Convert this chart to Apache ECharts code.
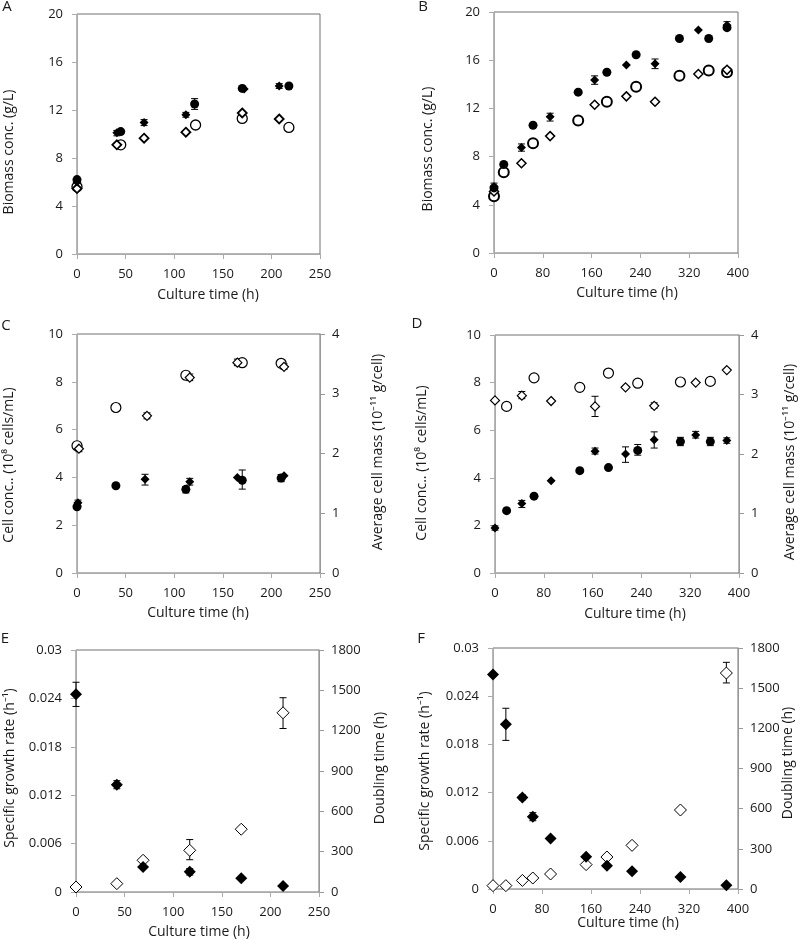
<!DOCTYPE html>
<html>
<head>
<meta charset="utf-8">
<script src="https://cdn.jsdelivr.net/npm/echarts@6/dist/echarts.min.js"></script>
<style>html,body{margin:0;padding:0;background:#fff}#c{width:800px;height:940px}</style>
</head>
<body>
<div id="c"></div>
<script>
// ---------- DATA ----------
// Panel A: biomass (g/L) vs culture time (h)
const aFilledCircle  = [[0,6.2],[45,10.2],[121,12.5],[170,13.8],[218,14.0]];
const aFilledDiamond = [[0,6.0],[41,10.1],[69,10.95],[112,11.6],[172,13.75],[208,14.0]];
const aOpenCircle    = [[0,5.6],[45,9.1],[122,10.75],[170,11.3],[218,10.55]];
const aOpenDiamond   = [[0,5.45],[41,9.1],[69,9.65],[112,10.15],[170,11.75],[208,11.25]];
const aErr           = [[121,12.05,12.95],[69,10.7,11.2],[41,9.85,10.3],[112,11.4,11.8],[208,13.8,14.2]];
// Panel B
const bFilledCircle  = [[0,5.4],[16,7.35],[64,10.6],[138,13.35],[185,15.0],[233,16.45],[304,17.8],[352,17.8],[382,18.7]];
const bFilledDiamond = [[0,5.5],[45,8.75],[92,11.3],[165,14.35],[217,15.6],[264,15.7],[335,18.5],[382,18.9]];
const bOpenCircle    = [[0,4.7],[16,6.7],[64,9.1],[138,11.0],[185,12.55],[233,13.8],[304,14.7],[352,15.15],[382,15.0]];
const bOpenDiamond   = [[0,5.1],[45,7.45],[92,9.7],[165,12.3],[217,13.0],[264,12.55],[335,14.85],[382,15.2]];
const bErr           = [[264,15.3,16.1],[45,8.45,9.05],[0,5.05,5.8],[165,14.0,14.7],[92,10.95,11.6],[382,18.6,19.2]];
// Panel C: cell conc. (left) and average cell mass (right)
const cFilledCircle  = [[0,2.77],[40,3.65],[112,3.5],[170,3.88],[210,3.97]];
const cFilledDiamond = [[1,2.94],[70,3.92],[116,3.82],[165,4.0],[213,4.07]];
const cOpenCircle    = [[0,2.13],[40,2.77],[112,3.31],[170,3.52],[210,3.51]];
const cOpenDiamond   = [[2,2.08],[72,2.63],[116,3.27],[165,3.52],[213,3.45]];
const cErrLeft       = [[70,3.68,4.13],[170,3.51,4.31],[112,3.35,3.62],[210,3.82,4.12],[116,3.68,3.96],[1,2.8,3.05]];
const cErrRight      = [[2,2.03,2.13],[116,3.22,3.33],[165,3.47,3.58],[213,3.41,3.5],[72,2.58,2.68]];
// Panel D
const dFilledCircle  = [[19,2.62],[64,3.23],[139,4.3],[186,4.43],[234,5.15],[304,5.52],[353,5.52]];
const dFilledDiamond = [[0,1.89],[44,2.92],[92,3.88],[164,5.12],[214,5.0],[261,5.6],[329,5.8],[380,5.57]];
const dOpenCircle    = [[19,2.8],[64,3.28],[139,3.12],[186,3.36],[234,3.19],[304,3.21],[353,3.22]];
const dOpenDiamond   = [[0,2.9],[44,2.98],[92,2.89],[164,2.8],[214,3.12],[261,2.81],[329,3.2],[380,3.41]];
const dErrLeft       = [[214,4.65,5.3],[234,4.95,5.4],[261,5.25,5.93],[304,5.35,5.7],[329,5.67,5.95],[353,5.35,5.7],[44,2.75,3.05],[164,5.0,5.25],[380,5.45,5.68],[0,1.8,1.98]];
const dErrRight      = [[164,2.63,2.97],[44,2.93,3.05],[261,2.77,2.86]];
// Panel E: specific growth rate (left) and doubling time (right)
const eFilledDiamond = [[0,0.0245],[42,0.0133],[69,0.0031],[117,0.0025],[170,0.0017],[213,0.00075]];
const eOpenDiamond   = [[0,37],[42,62],[69,236],[117,310],[170,467],[213,1333]];
const eErrLeft       = [[0,0.0230,0.0260],[42,0.0128,0.0138],[117,0.0021,0.0029]];
const eErrRight      = [[117,240,390],[213,1216,1445]];
// Panel F
const fFilledDiamond = [[0,0.0267],[21,0.0205],[48,0.0114],[65,0.009],[94,0.0063],[152,0.004],[186,0.0029],[227,0.0022],[306,0.0015],[381,0.00046]];
const fOpenDiamond   = [[0,25],[21,25],[48,64],[65,82],[94,112],[152,182],[186,239],[227,326],[306,590],[381,1613]];
const fErrLeft       = [[21,0.0185,0.0225],[65,0.0085,0.0095],[48,0.0111,0.0117]];
const fErrRight      = [[381,1539,1693]];

// ---------- STYLE ----------
const FONT = 'Open Sans';
const TXT = '#1a1a1a';
const AXC = '#ababab';

function xAx(grid, max, interval){
  return {type:'value', gridIndex:grid, min:0, max:max, interval:interval,
    axisLine:{show:true, lineStyle:{color:AXC}}, axisTick:{show:true, length:5, lineStyle:{color:AXC}},
    splitLine:{show:false}, axisLabel:{fontFamily:FONT, fontSize:13, color:TXT, margin:14, formatter: v => String(v)}};
}
function yAx(grid, max, interval, right, fmt){
  const o = {type:'value', gridIndex:grid, min:0, max:max, interval:interval, position: right?'right':'left',
    axisLine:{show:true, lineStyle:{color: right ? '#999' : AXC}}, axisTick:{show:true, length:5, lineStyle:{color: right ? '#999' : AXC}},
    splitLine:{show:false}, axisLabel:{fontFamily:FONT, fontSize:13, color:TXT, margin: right?12:14, formatter: fmt || (v => String(v))}};
  return o;
}
const fmt3 = v => v === 0 ? '0' : String(+v.toFixed(3));

function scatter(data, xi, yi, kind, size, bw){
  const filled = kind.indexOf('filled') === 0;
  return {type:'scatter', xAxisIndex:xi, yAxisIndex:yi, data:data, z:3,
    symbol: kind.indexOf('Diamond') > 0 ? 'diamond' : 'circle', symbolSize:size,
    itemStyle: filled ? {color:'#000', opacity:1} : {color:'#fff', borderColor:'#000', borderWidth:bw, opacity:1},
    emphasis:{disabled:true}, silent:true};
}
function errRender(params, api){
  const x = api.value(0), lo = api.value(1), hi = api.value(2);
  const p1 = api.coord([x, hi]), p2 = api.coord([x, lo]);
  const w = 3.5, st = {stroke:'#000', lineWidth:1};
  return {type:'group', children:[
    {type:'line', shape:{x1:p1[0], y1:p1[1], x2:p2[0], y2:p2[1]}, style:st},
    {type:'line', shape:{x1:p1[0]-w, y1:p1[1], x2:p1[0]+w, y2:p1[1]}, style:st},
    {type:'line', shape:{x1:p2[0]-w, y1:p2[1], x2:p2[0]+w, y2:p2[1]}, style:st}
  ]};
}
function errs(data, xi, yi){
  return {type:'custom', xAxisIndex:xi, yAxisIndex:yi, data:data, z:2, renderItem:errRender,
    encode:{x:0, y:[1,2]}, silent:true};
}
function title(text, x, y, rot, size){
  return {type:'text', x:x, y:y, rotation: rot ? Math.PI/2 : 0, silent:true,
    style:{text:text, fontFamily:FONT, fontSize:size||14, fill:TXT, textAlign:'center', textVerticalAlign:'middle'}};
}

const gridBase = {show:true, borderColor:'#707070', borderWidth:1, backgroundColor:'transparent'};
const option = {
  animation:false,
  backgroundColor:'#fff',
  grid:[
    Object.assign({left:77, top:14, width:243, height:240}, gridBase),
    Object.assign({left:494, top:12, width:244, height:241}, gridBase),
    Object.assign({left:77, top:334, width:243, height:239}, gridBase),
    Object.assign({left:495, top:335, width:244, height:238}, gridBase),
    Object.assign({left:76, top:650, width:243, height:242}, gridBase),
    Object.assign({left:493, top:648, width:245, height:241}, gridBase)
  ],
  xAxis:[xAx(0,250,50), xAx(1,400,80), xAx(2,250,50), xAx(3,400,80), xAx(4,250,50), xAx(5,400,80)],
  yAxis:[
    yAx(0,20,4,false), yAx(1,20,4,false),
    yAx(2,10,2,false), yAx(2,4,1,true),
    yAx(3,10,2,false), yAx(3,4,1,true),
    yAx(4,0.03,0.006,false,fmt3), yAx(4,1800,300,true),
    yAx(5,0.03,0.006,false,fmt3), yAx(5,1800,300,true)
  ],
  series:[
    errs(aErr,0,0),
    scatter(aOpenCircle,0,0,'openCircle',10,1.3),
    scatter(aOpenDiamond,0,0,'openDiamond',9,1.8),
    scatter(aFilledCircle,0,0,'filledCircle',9),
    scatter(aFilledDiamond,0,0,'filledDiamond',9),

    errs(bErr,1,1),
    scatter(bOpenCircle,1,1,'openCircle',10,2),
    scatter(bOpenDiamond,1,1,'openDiamond',9,1.5),
    scatter(bFilledCircle,1,1,'filledCircle',9),
    scatter(bFilledDiamond,1,1,'filledDiamond',9),

    errs(cErrLeft,2,2), errs(cErrRight,2,3),
    scatter(cOpenCircle,2,3,'openCircle',10,1.2),
    scatter(cOpenDiamond,2,3,'openDiamond',9,1.2),
    scatter(cFilledCircle,2,2,'filledCircle',9),
    scatter(cFilledDiamond,2,2,'filledDiamond',9),

    errs(dErrLeft,3,4), errs(dErrRight,3,5),
    scatter(dOpenCircle,3,5,'openCircle',10,1.2),
    scatter(dOpenDiamond,3,5,'openDiamond',9,1.2),
    scatter(dFilledCircle,3,4,'filledCircle',9),
    scatter(dFilledDiamond,3,4,'filledDiamond',9),

    errs(eErrLeft,4,6), errs(eErrRight,4,7),
    scatter(eOpenDiamond,4,7,'openDiamond',12,1),
    scatter(eFilledDiamond,4,6,'filledDiamond',12),

    errs(fErrLeft,5,8), errs(fErrRight,5,9),
    scatter(fOpenDiamond,5,9,'openDiamond',12,1),
    scatter(fFilledDiamond,5,8,'filledDiamond',12)
  ],
  graphic:[
    title('A',7,7,false,15), title('B',423,7,false,15), title('C',6,326,false,15),
    title('D',417,324,false,15), title('E',5,639,false,15), title('F',421,639,false,15),
    title('Culture time (h)',208,295), title('Culture time (h)',627,293),
    title('Culture time (h)',198,613), title('Culture time (h)',635,614),
    title('Culture time (h)',199,932), title('Culture time (h)',628,923),
    title('Biomass conc. (g/L)',9,152,true), title('Biomass conc. (g/L)',428,149,true),
    title('Cell conc.. (10\u2078 cells/mL)',9,465,true), title('Cell conc.. (10\u2078 cells/mL)',422,463,true),
    title('Average cell mass (10\u207B\u00B9\u00B9 g/cell)',378,452,true), title('Average cell mass (10\u207B\u00B9\u00B9 g/cell)',790,462,true),
    title('Specific growth rate (h\u207B\u00B9)',10,768,true), title('Specific growth rate (h\u207B\u00B9)',425,771,true),
    title('Doubling time (h)',380,768,true), title('Doubling time (h)',788,763,true)
  ]
};
const chart = echarts.init(document.getElementById('c'), null, {renderer:'canvas'});
chart.setOption(option);
</script>
</body>
</html>
